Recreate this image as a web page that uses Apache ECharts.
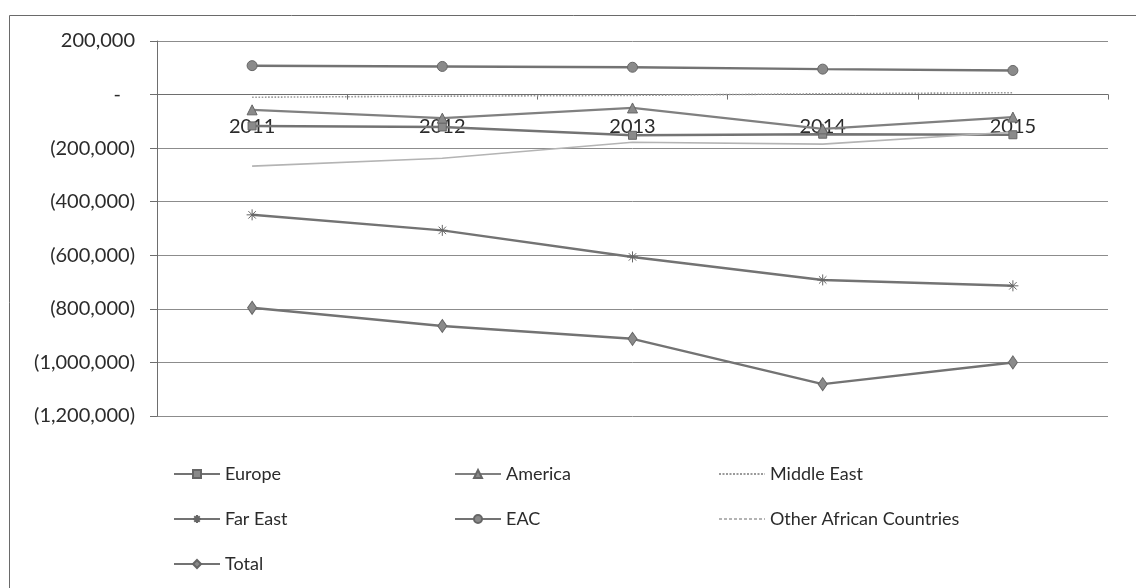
<!DOCTYPE html>
<html>
<head>
<meta charset="utf-8">
<script src="https://cdn.jsdelivr.net/npm/echarts@6/dist/echarts.min.js"></script>
<style>
  html, body { margin: 0; padding: 0; background: #fff; }
  #chart { width: 1136px; height: 588px; }
</style>
</head>
<body>
<div id="chart"></div>
<script>
// Years on the category axis
const years = ['2011', '2012', '2013', '2014', '2015'];

// Trade balance by region
const europe = [-117000, -121000, -152000, -148000, -150000];
const america = [-57000, -88000, -50000, -128000, -84000];
const middleEast = [-10000, -6000, -3000, 3000, 7000];
const farEast = [-449000, -507000, -606000, -692000, -714000];
const eac = [108000, 105000, 102000, 95000, 90000];
const otherAfrican = [-267000, -238000, -178000, -185000, -140000];
const total = [-796000, -864000, -912000, -1081000, -1000000];

// Value-axis range and step
const yMin = -1200000;
const yMax = 200000;
const yStep = 200000;

const FONT = 'Lato, "Open Sans", sans-serif';
const LINE = '#737373';
const TEXT = '#2b2b2b';

// Plot area box
const GRID = { left: 157, right: 28, top: 41, bottom: 172 };
const plotHeight = 588 - GRID.top - GRID.bottom;
// Category axis sits on the zero line
const zeroOffset = -plotHeight * (0 - yMin) / (yMax - yMin);

function yLabel(v) {
  if (v === 0) return '{z|-}';
  const s = Math.abs(v).toLocaleString('en-US');
  return v < 0 ? '(' + s + ')' : s;
}

const asterisk = 'path://M0,5L10,5M5,0L5,10M1.6,1.6L8.4,8.4M8.4,1.6L1.6,8.4';

// Legend swatches for the lines drawn without markers
function dashIcon(dash, gap) {
  let p = 'path://';
  for (let x = 0; x < 46; x += dash + gap) {
    const e = Math.min(46, x + dash);
    p += 'M' + x + ',0L' + e + ',0L' + e + ',2L' + x + ',2Z';
  }
  return p;
}

function lineSeries(name, data, opts) {
  return Object.assign({
    name: name,
    type: 'line',
    data: data,
    symbolSize: 9,
    lineStyle: { color: LINE, width: 2.5 },
    itemStyle: { color: '#8a8a8a', borderColor: '#666', borderWidth: 1 },
    emphasis: { disabled: true },
    animation: false,
    z: 3
  }, opts);
}

const series = [
  lineSeries('Europe', europe, { symbol: 'rect', symbolSize: 8 }),
  lineSeries('America', america, { symbol: 'triangle', symbolSize: 10, lineStyle: { color: '#808080', width: 2.2 } }),
  lineSeries('Middle East', middleEast, { symbol: 'none', itemStyle: { color: '#9a9a9a' }, lineStyle: { color: '#9a9a9a', width: 1.6, type: 'dotted' } }),
  lineSeries('Far East', farEast, { symbol: asterisk, symbolSize: 11, itemStyle: { color: 'none', borderColor: '#666', borderWidth: 1 } }),
  lineSeries('EAC', eac, { symbol: 'circle', symbolSize: 10 }),
  lineSeries('Other African Countries', otherAfrican, { symbol: 'none', itemStyle: { color: '#b4b4b4' }, lineStyle: { color: '#b4b4b4', width: 1.6 } }),
  lineSeries('Total', total, { symbol: 'diamond', symbolSize: [9, 13] })
];

// Legend laid out as a 3-column grid
const legendCells = [
  ['Europe', 168, 460, null], ['America', 449, 460, null], ['Middle East', 714, 460, dashIcon(2, 1.5)],
  ['Far East', 168, 505, null], ['EAC', 449, 505, null], ['Other African Countries', 714, 505, dashIcon(3, 2)],
  ['Total', 168, 550, null]
];
const legends = legendCells.map(function (c) {
  const item = c[3] ? { name: c[0], icon: c[3] } : { name: c[0] };
  return {
    data: [item],
    left: c[1],
    top: c[2],
    itemWidth: 46,
    itemHeight: c[3] ? 2 : 10,
    itemGap: 4,
    selectedMode: false,
    textStyle: { fontFamily: FONT, fontSize: 18, color: TEXT, padding: [0, 0, 0, 0] }
  };
});

const chart = echarts.init(document.getElementById('chart'), null, { renderer: 'canvas' });
chart.setOption({
  backgroundColor: '#fff',
  animation: false,
  grid: { left: GRID.left, right: GRID.right, top: GRID.top, bottom: GRID.bottom, containLabel: false },
  legend: legends,
  xAxis: {
    type: 'category',
    data: years,
    boundaryGap: true,
    offset: zeroOffset,
    axisLine: { onZero: false, lineStyle: { color: '#6e6e6e', width: 1 } },
    axisTick: { show: true, inside: false, length: 5, alignWithLabel: false, lineStyle: { color: '#6e6e6e' } },
    axisLabel: { margin: 22, fontFamily: FONT, fontSize: 20, color: TEXT },
    splitLine: { show: false }
  },
  yAxis: {
    type: 'value',
    min: yMin,
    max: yMax,
    interval: yStep,
    axisLine: { show: true, lineStyle: { color: '#6e6e6e', width: 1 } },
    axisTick: { show: true, inside: false, length: 7, lineStyle: { color: '#6e6e6e' } },
    axisLabel: {
      margin: 22,
      fontFamily: FONT,
      fontSize: 20,
      color: TEXT,
      formatter: yLabel,
      rich: { z: { fontFamily: FONT, fontSize: 20, color: TEXT, padding: [0, 14, 0, 0] } }
    },
    splitLine: { show: true, lineStyle: { color: '#8c8c8c', width: 1 } }
  },
  graphic: [
    {
      type: 'rect',
      left: 7,
      top: 13,
      shape: { width: 1140, height: 600 },
      style: { fill: 'none', stroke: '#6a6a6a', lineWidth: 1 },
      z: 0,
      silent: true
    }
  ],
  series: series
});
</script>
</body>
</html>
